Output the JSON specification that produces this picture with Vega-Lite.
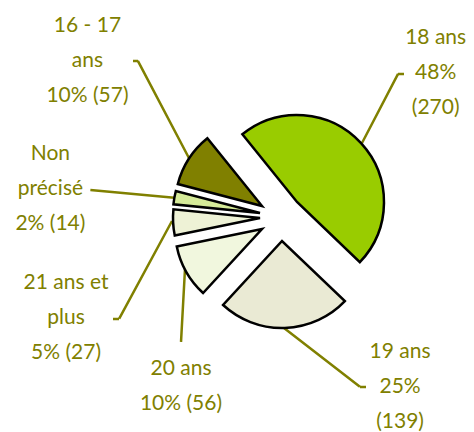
{
  "$schema": "https://vega.github.io/schema/vega-lite/v6.json",
  "width": 398,
  "height": 420,
  "autosize": "none",
  "padding": {"left": 76, "top": 12, "right": 0, "bottom": 0},
  "background": "white",
  "view": {"stroke": null},
  "data": {"values": [
    {"age": "18 ans", "n": 270, "rang": 1, "label": "18 ans\n48%\n(270)"},
    {"age": "19 ans", "n": 139, "rang": 2, "label": "19 ans\n25%\n(139)"},
    {"age": "20 ans", "n": 56, "rang": 3, "label": "20 ans\n10% (56)"},
    {"age": "21 ans et plus", "n": 27, "rang": 4, "label": "21 ans et\nplus\n5% (27)"},
    {"age": "Non précisé", "n": 14, "rang": 5, "label": "Non\nprécisé\n2% (14)"},
    {"age": "16 - 17 ans", "n": 57, "rang": 6, "label": "16 - 17\nans\n10% (57)"}
  ]},
  "encoding": {
    "theta": {"field": "n", "type": "quantitative", "stack": true, "scale": {"range": [-0.679, 5.6042]}},
    "order": {"field": "rang", "type": "quantitative"}
  },
  "layer": [
    {"mark": {"type": "arc", "radius": 78, "radius2": 0, "padAngle": 3.14, "thetaOffset": -0.347, "theta2Offset": -0.347, "xOffset": 87, "yOffset": -79, "fillOpacity": 0, "stroke": "#808000", "strokeWidth": 2.5},
     "encoding": {"opacity": {"condition": {"test": "datum.age === '18 ans'", "value": 1}, "value": 0}}},
    {"mark": {"type": "arc", "radius": 6, "radius2": 0, "padAngle": 3.14, "thetaOffset": 0.743, "theta2Offset": 0.743, "xOffset": 123, "yOffset": -148, "fillOpacity": 0, "stroke": "#808000", "strokeWidth": 2.5},
     "encoding": {"opacity": {"condition": {"test": "datum.age === '18 ans'", "value": 1}, "value": 0}}},
    {"mark": {"type": "arc", "radius": 96, "radius2": 0, "padAngle": 3.14, "thetaOffset": -0.88, "theta2Offset": -0.88, "xOffset": 9, "yOffset": 106, "fillOpacity": 0, "stroke": "#808000", "strokeWidth": 2.5},
     "encoding": {"opacity": {"condition": {"test": "datum.age === '19 ans'", "value": 1}, "value": 0}}},
    {"mark": {"type": "arc", "radius": 6, "radius2": 0, "padAngle": 3.14, "thetaOffset": -1.539, "theta2Offset": -1.539, "xOffset": 85, "yOffset": 165, "fillOpacity": 0, "stroke": "#808000", "strokeWidth": 2.5},
     "encoding": {"opacity": {"condition": {"test": "datum.age === '19 ans'", "value": 1}, "value": 0}}},
    {"mark": {"type": "arc", "radius": 73, "radius2": 0, "padAngle": 3.14, "thetaOffset": -1.002, "theta2Offset": -1.002, "xOffset": -90, "yOffset": 47, "fillOpacity": 0, "stroke": "#808000", "strokeWidth": 2.5},
     "encoding": {"opacity": {"condition": {"test": "datum.age === '20 ans'", "value": 1}, "value": 0}}},
    {"mark": {"type": "arc", "radius": 111, "radius2": 0, "padAngle": 3.14, "thetaOffset": -1.024, "theta2Offset": -1.024, "xOffset": -103, "yOffset": -1, "fillOpacity": 0, "stroke": "#808000", "strokeWidth": 2.5},
     "encoding": {"opacity": {"condition": {"test": "datum.age === '21 ans et plus'", "value": 1}, "value": 0}}},
    {"mark": {"type": "arc", "radius": 6, "radius2": 0, "padAngle": 3.14, "thetaOffset": 0.051, "theta2Offset": 0.051, "xOffset": -156, "yOffset": 97, "fillOpacity": 0, "stroke": "#808000", "strokeWidth": 2.5},
     "encoding": {"opacity": {"condition": {"test": "datum.age === '21 ans et plus'", "value": 1}, "value": 0}}},
    {"mark": {"type": "arc", "radius": 87, "radius2": 0, "padAngle": 3.14, "thetaOffset": -0.085, "theta2Offset": -0.085, "xOffset": -98, "yOffset": -24, "fillOpacity": 0, "stroke": "#808000", "strokeWidth": 2.5},
     "encoding": {"opacity": {"condition": {"test": "datum.age === 'Non précisé'", "value": 1}, "value": 0}}},
    {"mark": {"type": "arc", "radius": 112, "radius2": 0, "padAngle": 3.14, "thetaOffset": 0.513, "theta2Offset": 0.513, "xOffset": -85, "yOffset": -62, "fillOpacity": 0, "stroke": "#808000", "strokeWidth": 2.5},
     "encoding": {"opacity": {"condition": {"test": "datum.age === '16 - 17 ans'", "value": 1}, "value": 0}}},
    {"mark": {"type": "arc", "radius": 5, "radius2": 0, "padAngle": 3.14, "thetaOffset": -0.574, "theta2Offset": -0.574, "xOffset": -137, "yOffset": -161, "fillOpacity": 0, "stroke": "#808000", "strokeWidth": 2.5},
     "encoding": {"opacity": {"condition": {"test": "datum.age === '16 - 17 ans'", "value": 1}, "value": 0}}},

    {"mark": {"type": "arc", "radius": 87, "stroke": "black", "strokeWidth": 2.5, "strokeJoin": "miter", "xOffset": 22, "yOffset": -20},
     "encoding": {"fill": {"field": "age", "type": "nominal", "legend": null, "scale": {"domain": ["18 ans", "19 ans", "20 ans", "21 ans et plus", "Non précisé", "16 - 17 ans"], "range": ["#99CC00", "#EAEAD4", "#F1F7DE", "#EEF2D6", "#D6EB99", "#808000"]}},
      "opacity": {"condition": {"test": "datum.age === '18 ans'", "value": 1}, "value": 0}}},
    {"mark": {"type": "arc", "radius": 87, "stroke": "black", "strokeWidth": 2.5, "strokeJoin": "miter", "xOffset": 7, "yOffset": 19},
     "encoding": {"fill": {"field": "age", "type": "nominal", "legend": null},
      "opacity": {"condition": {"test": "datum.age === '19 ans'", "value": 1}, "value": 0}}},
    {"mark": {"type": "arc", "radius": 87, "stroke": "black", "strokeWidth": 2.5, "strokeJoin": "miter", "xOffset": -13, "yOffset": 7},
     "encoding": {"fill": {"field": "age", "type": "nominal", "legend": null},
      "opacity": {"condition": {"test": "datum.age === '20 ans'", "value": 1}, "value": 0}}},
    {"mark": {"type": "arc", "radius": 87, "stroke": "black", "strokeWidth": 2.5, "strokeJoin": "miter", "xOffset": -15, "yOffset": -4},
     "encoding": {"fill": {"field": "age", "type": "nominal", "legend": null},
      "opacity": {"condition": {"test": "datum.age === '21 ans et plus'", "value": 1}, "value": 0}}},
    {"mark": {"type": "arc", "radius": 87, "stroke": "black", "strokeWidth": 2.5, "strokeJoin": "miter", "xOffset": -15, "yOffset": -9},
     "encoding": {"fill": {"field": "age", "type": "nominal", "legend": null},
      "opacity": {"condition": {"test": "datum.age === 'Non précisé'", "value": 1}, "value": 0}}},
    {"mark": {"type": "arc", "radius": 87, "stroke": "black", "strokeWidth": 2.5, "strokeJoin": "miter", "xOffset": -13, "yOffset": -16},
     "encoding": {"fill": {"field": "age", "type": "nominal", "legend": null},
      "opacity": {"condition": {"test": "datum.age === '16 - 17 ans'", "value": 1}, "value": 0}}},

    {"mark": {"type": "text", "radius": 219, "thetaOffset": -0.004, "dy": -35, "font": "Lato", "fontSize": 21, "lineHeight": 35, "lineBreak": "\n", "color": "#808000", "align": "center", "baseline": "middle"},
     "encoding": {"text": {"condition": {"test": "datum.age === '18 ans'", "field": "label"}, "value": ""}}},
    {"mark": {"type": "text", "radius": 207, "thetaOffset": -0.617, "dy": -35, "font": "Lato", "fontSize": 21, "lineHeight": 35, "lineBreak": "\n", "color": "#808000", "align": "center", "baseline": "middle"},
     "encoding": {"text": {"condition": {"test": "datum.age === '19 ans'", "field": "label"}, "value": ""}}},
    {"mark": {"type": "text", "radius": 189, "thetaOffset": -0.536, "dy": -17, "font": "Lato", "fontSize": 21, "lineHeight": 35, "lineBreak": "\n", "color": "#808000", "align": "center", "baseline": "middle"},
     "encoding": {"text": {"condition": {"test": "datum.age === '20 ans'", "field": "label"}, "value": ""}}},
    {"mark": {"type": "text", "radius": 230, "thetaOffset": -0.38, "dy": -35, "font": "Lato", "fontSize": 21, "lineHeight": 35, "lineBreak": "\n", "color": "#808000", "align": "center", "baseline": "middle"},
     "encoding": {"text": {"condition": {"test": "datum.age === '21 ans et plus'", "field": "label"}, "value": ""}}},
    {"mark": {"type": "text", "radius": 227, "thetaOffset": -0.032, "dy": -35, "font": "Lato", "fontSize": 21, "lineHeight": 35, "lineBreak": "\n", "color": "#808000", "align": "center", "baseline": "middle"},
     "encoding": {"text": {"condition": {"test": "datum.age === 'Non précisé'", "field": "label"}, "value": ""}}},
    {"mark": {"type": "text", "radius": 247, "thetaOffset": 0.135, "dy": -35, "font": "Lato", "fontSize": 21, "lineHeight": 35, "lineBreak": "\n", "color": "#808000", "align": "center", "baseline": "middle"},
     "encoding": {"text": {"condition": {"test": "datum.age === '16 - 17 ans'", "field": "label"}, "value": ""}}}
  ]
}
